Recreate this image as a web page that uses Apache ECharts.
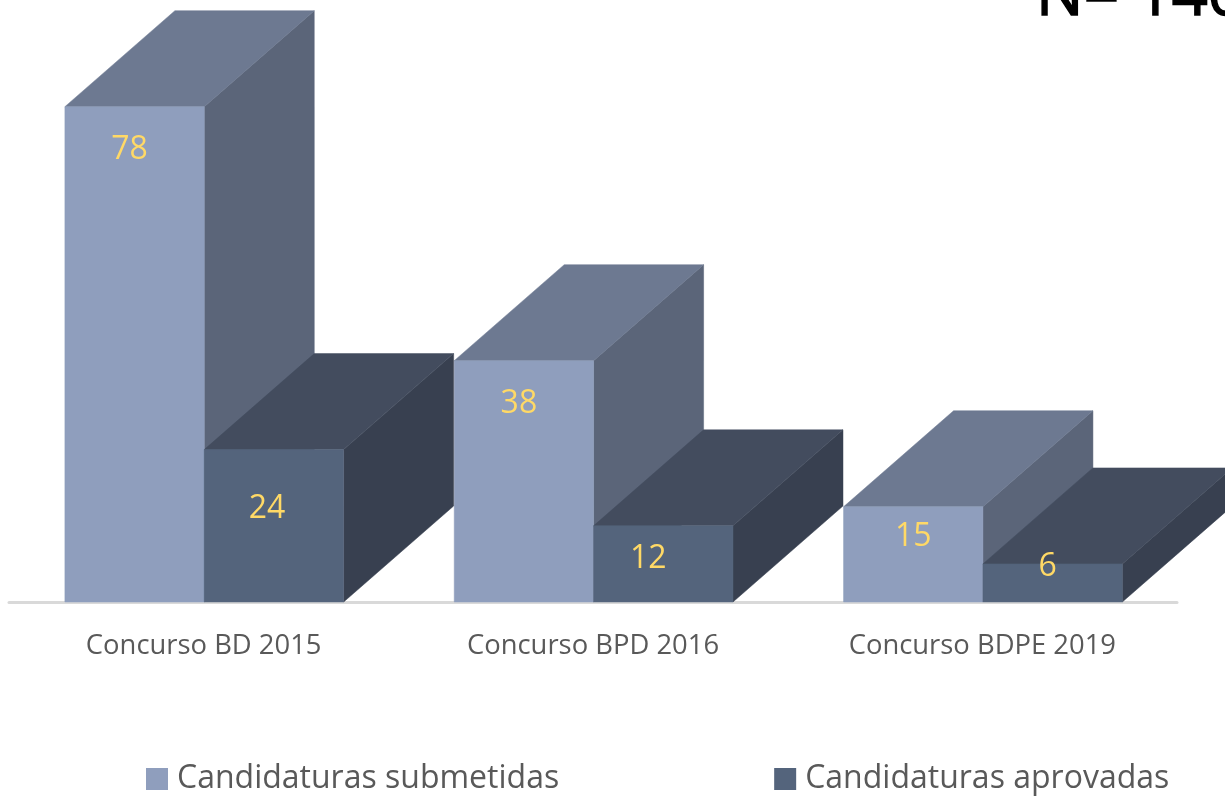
<!DOCTYPE html>
<html>
<head>
<meta charset="utf-8">
<style>
  html, body { margin: 0; padding: 0; background: #fff; }
  #chart { width: 1225px; height: 796px; }
</style>
</head>
<body>
<div id="chart"></div>
<script src="https://cdn.jsdelivr.net/npm/echarts@6/dist/echarts.min.js"></script>
<script>
const categories = ['Concurso BD 2015', 'Concurso BPD 2016', 'Concurso BDPE 2019']
const submetidas = [78, 38, 15]
const aprovadas = [24, 12, 6]
const seriesNames = ['Candidaturas submetidas', 'Candidaturas aprovadas']

// the value labels were placed by hand in the original, so they sit off centre
const labelShift = [
  [[-5, 43], [-7, 59]],
  [[-5, 43], [-15, 33]],
  [[0, 30], [-5, 3]]
]

const faces = [
  { front: '#8f9ebd', top: '#6d7991', side: '#5b6579' },
  { front: '#54647c', top: '#434c5e', side: '#384050' }
]
const depthX = 110
const depthY = 96
const fontName = '"Open Sans", sans-serif'

function renderBar(seriesIdx) {
  return function (params, api) {
    const cat = api.value(0)
    const val = api.value(1)
    const base = api.coord([cat, 0])
    const head = api.coord([cat, val])
    const w = api.size([1, 0])[0] * 0.358
    const x0 = base[0] + 0.6 + (seriesIdx - 1) * w
    const x1 = x0 + w
    const y0 = head[1]
    const y1 = base[1]
    const c = faces[seriesIdx]
    const shift = labelShift[cat][seriesIdx]
    return {
      type: 'group',
      children: [
        {
          type: 'polygon',
          shape: { points: [[x1, y0], [x1 + depthX, y0 - depthY], [x1 + depthX, y1 - depthY], [x1, y1]] },
          style: { fill: c.side, stroke: c.side, lineWidth: 0.5 }
        },
        {
          type: 'polygon',
          shape: { points: [[x0, y0], [x0 + depthX, y0 - depthY], [x1 + depthX, y0 - depthY], [x1, y0]] },
          style: { fill: c.top, stroke: c.top, lineWidth: 0.5 }
        },
        {
          type: 'rect',
          shape: { x: x0, y: y0, width: w, height: y1 - y0 },
          style: { fill: c.front, stroke: c.front, lineWidth: 0.5 }
        },
        {
          type: 'text',
          z2: 10,
          style: {
            x: (x0 + x1) / 2 + shift[0],
            y: y0 + shift[1],
            text: String(val),
            fill: '#ffd966',
            font: '32px ' + fontName,
            align: 'center',
            verticalAlign: 'middle'
          }
        }
      ]
    }
  }
}

const mychart = echarts.init(document.getElementById('chart'))
const option = {
  animation: false,
  title: {
    text: 'N= 140',
    left: 1031,
    top: -39,
    textStyle: {
      color: '#000',
      fontSize: 63,
      fontWeight: 'normal',
      fontFamily: fontName,
      textBorderColor: '#000',
      textBorderWidth: 1.5
    }
  },
  legend: {
    left: 141,
    top: 758,
    itemWidth: 22,
    itemHeight: 22,
    itemGap: 215,
    icon: 'rect',
    selectedMode: false,
    data: seriesNames,
    textStyle: { color: '#595959', fontSize: 32, fontFamily: fontName, padding: [0, 0, 0, 4] }
  },
  grid: { left: 9, right: 48, top: 30.5, bottom: 194 },
  xAxis: {
    type: 'category',
    data: categories,
    axisTick: { show: false },
    axisLine: { lineStyle: { color: '#d9d9d9', width: 3 } },
    axisLabel: { color: '#595959', fontSize: 27.4, margin: 31, fontFamily: fontName }
  },
  yAxis: { type: 'value', min: 0, max: 90, show: false, splitLine: { show: false } },
  series: [
    {
      name: seriesNames[0],
      type: 'custom',
      silent: true,
      renderItem: renderBar(0),
      encode: { x: 0, y: 1 },
      itemStyle: { color: faces[0].front },
      data: submetidas.map((v, i) => [i, v])
    },
    {
      name: seriesNames[1],
      type: 'custom',
      silent: true,
      renderItem: renderBar(1),
      encode: { x: 0, y: 1 },
      itemStyle: { color: faces[1].front },
      data: aprovadas.map((v, i) => [i, v])
    }
  ]
}
mychart.setOption(option)
</script>
</body>
</html>
